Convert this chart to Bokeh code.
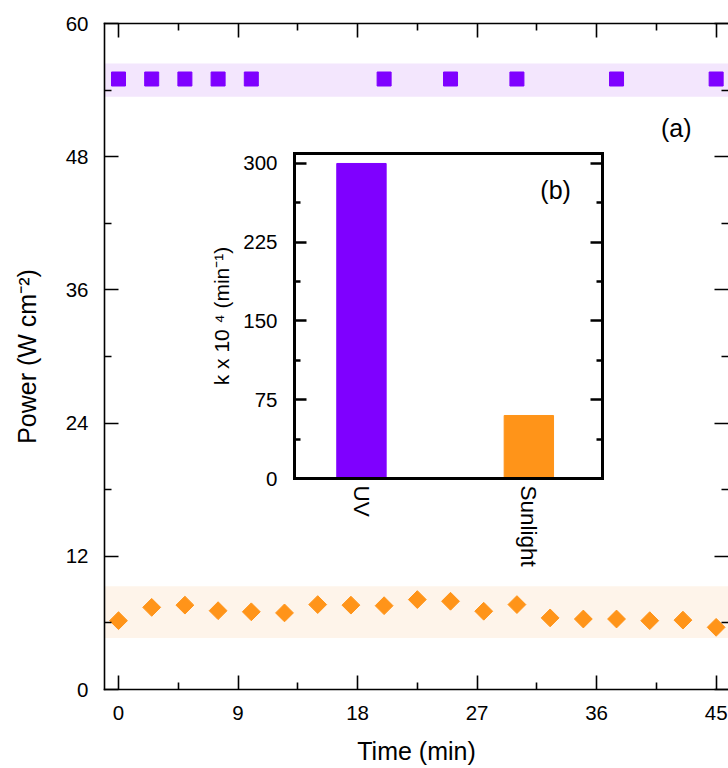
import numpy as np
from bokeh.plotting import figure
from bokeh.models import (Range1d, LinearAxis, FixedTicker, BoxAnnotation, Label,
                          CustomJSTickFormatter)
from bokeh.embed import file_html
from bokeh.resources import INLINE

# ---------------- data ----------------
time_uv = [0, 2.5, 5, 7.5, 10, 20, 25, 30, 37.5, 45]
power_uv = [55.0, 55.0, 55.0, 55.0, 55.0, 55.0, 55.0, 55.0, 55.0, 55.0]
time_sun = [0, 2.5, 5, 7.5, 10, 12.5, 15, 17.5, 20, 22.5, 25, 27.5, 30, 32.5,
            35, 37.5, 40, 42.5, 45]
power_sun = [6.2, 7.4, 7.6, 7.1, 7.0, 6.9, 7.65, 7.6, 7.55, 8.1, 7.95, 7.05,
             7.65, 6.45, 6.35, 6.35, 6.2, 6.25, 5.6]
uv_band = [53.4, 56.4]
sun_band = [4.65, 9.3]

x_ticks = [0, 9, 18, 27, 36, 45]
x_minor = [4.5, 13.5, 22.5, 31.5, 40.5]
y_ticks = [0, 12, 24, 36, 48, 60]
y_minor = [6, 18, 30, 42, 54]

categories = ["UV", "Sunlight"]
cat_pos = [1, 2]
k_values = [300, 60]
k_ticks = [0, 75, 150, 225, 300]
k_minor = [37.5, 112.5, 187.5, 262.5]

PURPLE = "#7F00FF"
ORANGE = "#FF9419"
FONT = "Liberation Sans"

# ---------------- layout constants (pixels) ----------------
FL, FR, FT, FB = 104, 728, 23, 689          # main frame
IL, IR, IT, IB = 294, 602, 153, 478         # inset box
ix0, ix1 = 0.6, 2.44                        # inset x domain
iy0, iy1 = 0.0, 309.5                       # inset y domain

sx = (IR - IL) / (ix1 - ix0)
sy = (IB - IT) / (iy1 - iy0)
ix_start = ix0 - (IL - FL) / sx
ix_end = ix1 + (FR - IR) / sx
iy_start = iy0 - (FB - IB) / sy
iy_end = iy1 + (IT - FT) / sy

p = figure(width=728, height=768, output_backend="svg", toolbar_location=None,
           x_range=Range1d(-1.054, 45.93), y_range=Range1d(0, 60),
           x_axis_type=None, y_axis_type=None,
           min_border_left=FL, min_border_right=0, min_border_top=FT,
           min_border_bottom=768 - FB)
p.extra_x_ranges = {"ix": Range1d(ix_start, ix_end)}
p.extra_y_ranges = {"iy": Range1d(iy_start, iy_end)}
p.outline_line_color = None
p.background_fill_color = "white"
p.border_fill_color = "white"
for g in p.grid:
    g.visible = False

blank = CustomJSTickFormatter(code="return '';")


def style(ax, maj, mnr, w):
    ax.major_tick_in = maj
    ax.major_tick_out = 0
    ax.minor_tick_in = mnr
    ax.minor_tick_out = 0
    ax.major_tick_line_width = w
    ax.minor_tick_line_width = w
    ax.major_tick_line_color = "black"
    ax.minor_tick_line_color = "black"
    ax.axis_line_color = None
    ax.major_label_text_font = FONT
    ax.major_label_text_font_size = "20.5px"
    ax.major_label_text_color = "black"
    ax.axis_label_text_font = FONT
    ax.axis_label_text_font_size = "25px"
    ax.axis_label_text_font_style = "normal"
    ax.axis_label_text_color = "black"


def main_line(ax):
    ax.axis_line_color = "black"
    ax.axis_line_width = 1.6
    ax.axis_line_cap = "square"


# main axes
xb = LinearAxis(ticker=FixedTicker(ticks=x_ticks, minor_ticks=x_minor),
                axis_label="Time (min)")
style(xb, 14, 7, 1.6)
main_line(xb)
xb.major_label_standoff = 16
xb.axis_label_standoff = 14
p.add_layout(xb, "below")

xt = LinearAxis(ticker=FixedTicker(ticks=x_ticks, minor_ticks=x_minor),
                formatter=blank)
style(xt, 14, 7, 1.6)
main_line(xt)
xt.major_label_standoff = 0
p.add_layout(xt, "above")

yl = LinearAxis(ticker=FixedTicker(ticks=y_ticks, minor_ticks=y_minor),
                axis_label="Power (W cm\u207b\u00b2)")
style(yl, 14, 7, 1.6)
main_line(yl)
yl.major_label_standoff = 16
yl.axis_label_standoff = 22
p.add_layout(yl, "left")

yr = LinearAxis(ticker=FixedTicker(ticks=y_ticks, minor_ticks=y_minor),
                formatter=blank)
style(yr, 14, 7, 1.6)
yr.major_label_standoff = 0
p.add_layout(yr, "right")

# shaded bands
p.add_layout(BoxAnnotation(bottom=uv_band[0], top=uv_band[1], fill_color="#F3E6FD",
                           fill_alpha=1.0, line_color=None, level="underlay"))
p.add_layout(BoxAnnotation(bottom=sun_band[0], top=sun_band[1], fill_color="#FEF4EA",
                           fill_alpha=1.0, line_color=None, level="underlay"))

# main markers
p.scatter(time_uv, power_uv, marker="square", size=14, color=PURPLE)
p.scatter(time_sun, power_sun, marker="square", size=12.6, angle=np.pi / 4,
          color=ORANGE)

p.add_layout(Label(x=42.0, y=50.6, text="(a)", text_align="center",
                   text_baseline="middle", text_font=FONT, text_font_size="25px",
                   text_color="black"))

# ---------------- inset ----------------
p.vbar(x=cat_pos, top=k_values, width=0.295, color=[PURPLE, ORANGE],
       x_range_name="ix", y_range_name="iy")


def frame_line(ax):
    ax.axis_line_color = "black"
    ax.axis_line_width = 3
    ax.axis_line_cap = "square"


il = LinearAxis(x_range_name="ix", y_range_name="iy", fixed_location=ix0,
                bounds=(iy0, iy1),
                ticker=FixedTicker(ticks=k_ticks, minor_ticks=k_minor),
                axis_label="k x 10 \u2074 (min\u207b\u00b9)")
style(il, 12, 6, 2.4)
frame_line(il)
il.axis_label_text_font_size = "21px"
il.major_label_standoff = 17
il.axis_label_standoff = 7
p.add_layout(il, "left")

ir = LinearAxis(x_range_name="ix", y_range_name="iy", fixed_location=ix1,
                bounds=(iy0, iy1),
                ticker=FixedTicker(ticks=k_ticks, minor_ticks=k_minor),
                formatter=blank)
style(ir, 12, 6, 2.4)
frame_line(ir)
ir.major_label_standoff = 0
p.add_layout(ir, "right")

ib = LinearAxis(x_range_name="ix", y_range_name="iy", fixed_location=iy0,
                bounds=(ix0, ix1), ticker=FixedTicker(ticks=cat_pos),
                major_label_overrides={cp: c for cp, c in zip(cat_pos, categories)})
style(ib, 0, 0, 0)
frame_line(ib)
ib.major_tick_line_color = None
ib.minor_tick_line_color = None
ib.major_label_orientation = "vertical"
ib.major_label_text_font_size = "22.5px"
ib.major_label_standoff = 7
p.add_layout(ib, "below")

it = LinearAxis(x_range_name="ix", y_range_name="iy", fixed_location=iy1,
                bounds=(ix0, ix1), ticker=FixedTicker(ticks=[]),
                formatter=blank)
style(it, 0, 0, 0)
frame_line(it)
it.major_tick_line_color = None
it.minor_tick_line_color = None
it.major_label_standoff = 0
p.add_layout(it, "above")

p.add_layout(Label(x=2.16, y=274.6, x_range_name="ix", y_range_name="iy",
                   text="(b)", text_align="center", text_baseline="middle",
                   text_font=FONT, text_font_size="25px", text_color="black"))

open("out.html", "w").write(file_html(p, INLINE))
